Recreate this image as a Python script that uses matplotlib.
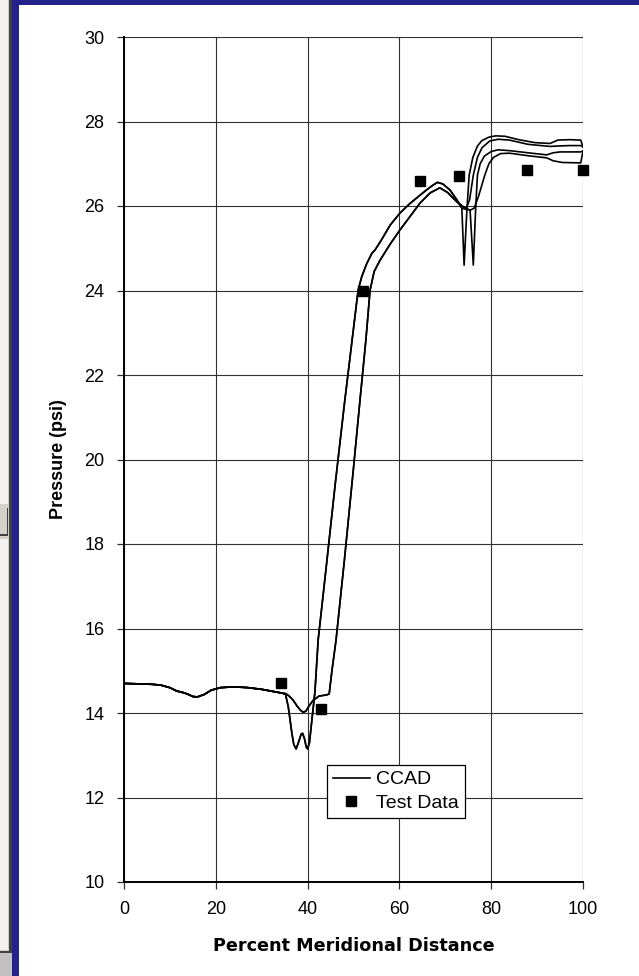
import numpy as np
import matplotlib.pyplot as plt
from matplotlib.patches import Rectangle

W, H = 639, 976

# --- data ---
# shared leading part of all CCAD curves
common_x = [0, 3, 6, 8, 10, 11.5, 13, 14, 15, 16, 17.5, 19, 21, 24, 27, 30, 33, 34.5]
common_y = [14.70, 14.69, 14.68, 14.66, 14.60, 14.52, 14.48, 14.44, 14.39, 14.38,
            14.44, 14.54, 14.60, 14.62, 14.60, 14.56, 14.50, 14.47]

# family with the double dip near 38-40 %
lo_x = [35.2, 35.8, 36.6, 37.0, 37.5, 38.0, 38.6, 38.9, 39.3, 39.7, 40.0, 40.4, 41.0,
        41.6, 42.3, 44, 46, 48, 49.7, 51.0, 51.8, 52.9, 54.0, 54.7, 56.1, 58, 60.1,
        62.3, 65.9, 67.4, 68.3, 69.5, 71.0, 72.5, 73.6]
lo_y = [14.44, 14.14, 13.5, 13.25, 13.15, 13.3, 13.5, 13.52, 13.4, 13.2, 13.15, 13.3,
        13.9, 14.5, 15.73, 17.4, 19.4, 21.3, 22.83, 24.0, 24.33, 24.64, 24.88, 24.96,
        25.2, 25.55, 25.83, 26.06, 26.38, 26.5, 26.56, 26.52, 26.38, 26.15, 25.95]

# family with the shallow dip
hi_x = [35.2, 36.0, 36.8, 37.8, 38.5, 39.0, 39.6, 40.4, 41.2, 42.5, 44.2, 44.7, 45.3,
        46.2, 48, 50, 51.5, 52.7, 53.6, 54.5, 55.8, 58, 60.1, 62.3, 64.5, 66.7, 68.8,
        70.5, 72.5, 74.3, 75.4]
hi_y = [14.46, 14.40, 14.31, 14.15, 14.06, 14.02, 14.04, 14.18, 14.30, 14.40, 14.43,
        14.45, 15.0, 15.73, 17.6, 19.8, 21.5, 22.83, 24.0, 24.45, 24.72, 25.1, 25.43,
        25.75, 26.07, 26.31, 26.43, 26.32, 26.1, 25.95, 25.9]

# trailing parts of the four curves
t1_x = [74.1, 74.7, 75.2, 76, 77, 78, 79.5, 81, 83, 86, 89.5, 92.8, 94.5, 97, 99.5, 100]
t1_y = [24.6, 25.9, 26.73, 27.15, 27.42, 27.55, 27.63, 27.66, 27.65, 27.57, 27.5,
        27.48, 27.56, 27.57, 27.56, 27.4]
t2_x = [74.5, 75.3, 76.1, 77, 78, 79.7, 81.5, 84, 88, 92.8, 94.5, 97, 99.5, 100]
t2_y = [25.92, 26.15, 26.73, 27.15, 27.38, 27.54, 27.58, 27.56, 27.46, 27.41, 27.42,
        27.43, 27.43, 27.4]
t3_x = [76.1, 76.6, 77.0, 77.6, 78.5, 80, 81.5, 84, 88, 92.1, 93.5, 95, 99.5, 100]
t3_y = [24.6, 25.9, 26.73, 27.0, 27.18, 27.29, 27.33, 27.31, 27.26, 27.21, 27.26,
        27.28, 27.28, 27.3]
t4_x = [76.3, 77.3, 78.6, 79.5, 80.5, 82, 84, 88, 92.1, 93.5, 95.5, 99.5, 100]
t4_y = [25.95, 26.25, 26.73, 27.0, 27.15, 27.24, 27.25, 27.19, 27.14, 27.07, 27.03,
        27.02, 27.3]

test_x = [34.2, 42.9, 52.1, 64.5, 73.0, 87.8, 100]
test_y = [14.7, 14.1, 24.0, 26.6, 26.7, 26.85, 26.85]

curves = [
    (common_x + lo_x + t1_x, common_y + lo_y + t1_y),
    (common_x + lo_x + t2_x, common_y + lo_y + t2_y),
    (common_x + hi_x + t3_x, common_y + hi_y + t3_y),
    (common_x + hi_x + t4_x, common_y + hi_y + t4_y),
]

fig = plt.figure(figsize=(W / 100, H / 100), dpi=100)
fig.patch.set_facecolor('white')


def px_rect(x0, y0, x1, y1, color, **kw):
    fig.add_artist(Rectangle((x0 / W, 1 - y1 / H), (x1 - x0) / W, (y1 - y0) / H,
                             transform=fig.transFigure, facecolor=color,
                             edgecolor='none', **kw))


# window chrome on the left / top
px_rect(0, 0, 12, H, '#d4d0c8')
px_rect(0, 0, 8, 504, '#f2f2f2')
px_rect(0, 508, 7, 534, '#d4d0c8', linewidth=0)
px_rect(7, 508, 8, 534, '#404040')
px_rect(0, 534, 8, 536, '#404040')
px_rect(0, 539, 8, 950, '#f2f2f2')
px_rect(0, 951, 12, 953, '#404040')
px_rect(0, 953, 12, H, '#c0c0c0')
px_rect(9, 0, 12, 953, '#404040')
px_rect(12, 0, 19, H, '#22228a')
px_rect(12, 0, W, 5, '#22228a')

ax = fig.add_axes([124 / W, (H - 882) / H, 459 / W, 845 / H])

for i, (cx, cy) in enumerate(curves):
    ax.plot(cx, cy, color='black', lw=1.2, zorder=3,
            label='CCAD' if i == 0 else '_nolegend_')
ax.plot(test_x, test_y, 's', color='black', markersize=6.5, zorder=4,
        label='Test Data', clip_on=False)

ax.set_xlim(0, 100)
ax.set_ylim(10, 30)
ax.set_xticks(np.arange(0, 101, 20))
ax.set_yticks(np.arange(10, 31, 2))
ax.grid(True, color='#303030', lw=0.8, zorder=1)
ax.set_axisbelow(True)
for s in ['top', 'right']:
    ax.spines[s].set_visible(False)
for s in ['left', 'bottom']:
    ax.spines[s].set_linewidth(1.4)
    ax.spines[s].set_zorder(5)

ax.tick_params(direction='out', length=5, width=0.9, color='#303030', pad=9)
for lab in ax.get_xticklabels() + ax.get_yticklabels():
    lab.set_fontfamily('Liberation Sans')
    lab.set_fontsize(13)

ax.set_xlabel('Percent Meridional Distance', family='DejaVu Sans',
              fontweight='bold', fontsize=12.7)
ax.xaxis.set_label_coords(0.5, -0.065)
ax.set_ylabel('Pressure (psi)', family='Liberation Sans', fontweight='bold',
              fontsize=13)
ax.yaxis.set_label_coords(-0.125, 0.5)

leg = ax.legend(loc='upper left', bbox_to_anchor=(0.442, 0.1385),
                borderaxespad=0, frameon=True, fancybox=False, framealpha=1,
                edgecolor='black', prop={'family': 'Liberation Sans', 'size': 14},
                handlelength=1.9, handletextpad=0.35, borderpad=0.3,
                labelspacing=0.3, numpoints=1)
leg.get_frame().set_linewidth(0.9)
leg.set_zorder(6)

fig.savefig('out.png', dpi=100)
